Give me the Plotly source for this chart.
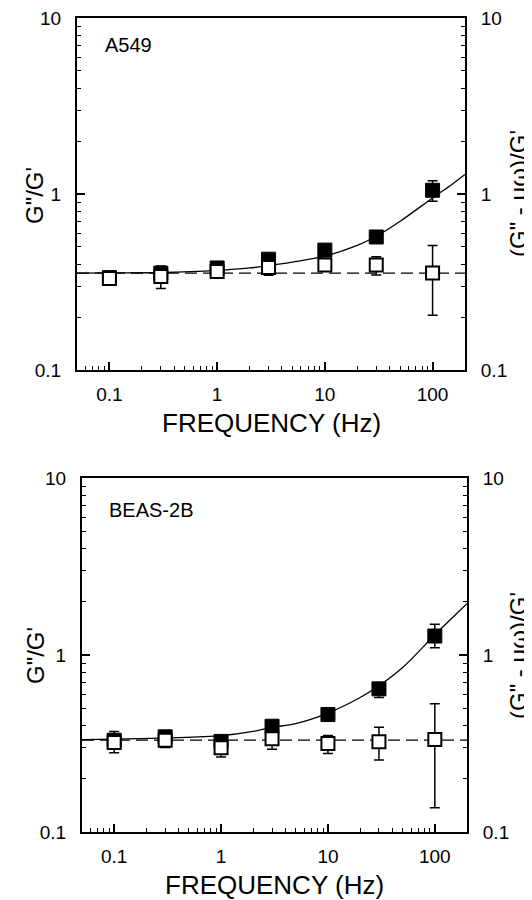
import plotly.graph_objects as go

# measured frequencies (Hz)
freq = [0.1, 0.3, 1, 3, 10, 30, 100]

# A549 panel: filled = G''/G', open = (G'' - mu*w)/G'
a549_filled = [0.335, 0.355, 0.38, 0.426, 0.48, 0.57, 1.05]
a549_filled_lo = [0.32, 0.335, 0.355, 0.40, 0.45, 0.55, 0.91]
a549_filled_hi = [0.35, 0.375, 0.40, 0.45, 0.51, 0.59, 1.19]
a549_open = [0.331, 0.34, 0.363, 0.382, 0.395, 0.395, 0.356]
a549_open_lo = [0.315, 0.29, 0.345, 0.345, 0.365, 0.347, 0.205]
a549_open_hi = [0.35, 0.39, 0.38, 0.415, 0.425, 0.44, 0.51]

# BEAS-2B panel
beas_filled = [0.33, 0.345, 0.325, 0.396, 0.461, 0.644, 1.28]
beas_filled_lo = [0.31, 0.325, 0.30, 0.375, 0.44, 0.575, 1.10]
beas_filled_hi = [0.35, 0.365, 0.345, 0.42, 0.485, 0.69, 1.49]
beas_open = [0.32, 0.33, 0.299, 0.336, 0.316, 0.323, 0.333]
beas_open_lo = [0.28, 0.30, 0.265, 0.293, 0.278, 0.255, 0.137]
beas_open_hi = [0.37, 0.365, 0.33, 0.375, 0.351, 0.391, 0.53]

# fitted curves
curve_x = [0.05, 0.1, 0.3, 1, 2, 3, 5, 10, 20, 30, 50, 100, 150, 200]
a549_curve = [0.355, 0.356, 0.358, 0.368, 0.38, 0.392, 0.41, 0.443, 0.51, 0.575, 0.70, 0.95, 1.13, 1.29]
beas_curve = [0.333, 0.335, 0.34, 0.35, 0.37, 0.39, 0.41, 0.47, 0.575, 0.67, 0.85, 1.30, 1.65, 1.95]

# dashed plateau lines
dash_x = [0.05, 200]
a549_dash = [0.355, 0.355]
beas_dash = [0.33, 0.33]

x_ticks = [0.1, 1, 10, 100]
x_ticktext = ["0.1", "1", "10", "100"]
y_ticks = [0.1, 1, 10]
y_ticktext = ["0.1", "1", "10"]

FONT = "Arial, Liberation Sans, sans-serif"
OFF = 8  # default page margin around the plot div
W, H = 532 - OFF, 900 - OFF


def err(y, lo, hi):
    return dict(type="data", symmetric=False,
                array=[h - v for v, h in zip(y, hi)],
                arrayminus=[v - l for v, l in zip(y, lo)],
                color="black", thickness=1.5, width=5)


fig = go.Figure()

panels = [
    ("x", "y", "y3", a549_curve, a549_dash, a549_filled, a549_filled_lo, a549_filled_hi,
     a549_open, a549_open_lo, a549_open_hi),
    ("x2", "y2", "y4", beas_curve, beas_dash, beas_filled, beas_filled_lo, beas_filled_hi,
     beas_open, beas_open_lo, beas_open_hi),
]

for xa, ya, yr, curve, dash, fy, flo, fhi, oy, olo, ohi in panels:
    fig.add_trace(go.Scatter(x=dash_x, y=dash, xaxis=xa, yaxis=ya, mode="lines",
                             line=dict(color="black", width=1.2, dash="12px,6px"),
                             showlegend=False, hoverinfo="skip"))
    fig.add_trace(go.Scatter(x=curve_x, y=curve, xaxis=xa, yaxis=ya, mode="lines",
                             line=dict(color="black", width=1.3, shape="spline"),
                             showlegend=False, hoverinfo="skip"))
    fig.add_trace(go.Scatter(x=freq, y=fy, xaxis=xa, yaxis=ya, mode="markers",
                             marker=dict(symbol="square", size=14, color="black",
                                         line=dict(color="black", width=1)),
                             error_y=err(fy, flo, fhi), showlegend=False))
    fig.add_trace(go.Scatter(x=freq, y=oy, xaxis=xa, yaxis=yr, mode="markers",
                             marker=dict(symbol="square", size=13, color="white",
                                         line=dict(color="black", width=2)),
                             error_y=err(oy, olo, ohi), showlegend=False))

xcommon = dict(type="log", range=[-1.30103, 2.30103], tickvals=x_ticks, ticktext=x_ticktext,
               ticks="inside", ticklen=8, tickwidth=1.5, tickcolor="black",
               minor=dict(dtick="D1", ticks="inside", ticklen=4, tickwidth=1.2, tickcolor="black"),
               showline=True, linecolor="black", linewidth=2, mirror=True,
               showgrid=False, zeroline=False, ticklabelstandoff=6, automargin=False,
               ticklabeloverflow="allow",
               tickfont=dict(family=FONT, size=19, color="black"))
ycommon = dict(type="log", range=[-1, 1], tickvals=y_ticks, ticktext=y_ticktext,
               ticks="inside", ticklen=8, tickwidth=1.5, tickcolor="black",
               minor=dict(dtick="D1", ticks="inside", ticklen=4, tickwidth=1.2, tickcolor="black"),
               showline=True, linecolor="black", linewidth=2,
               showgrid=False, zeroline=False, ticklabelstandoff=10, automargin=False,
               ticklabeloverflow="allow",
               tickfont=dict(family=FONT, size=19, color="black"))


def dom_x(a, b):
    return [(a - OFF) / W, (b - OFF) / W]


def dom_y(top, bottom):
    return [1 - (bottom - OFF) / H, 1 - (top - OFF) / H]


fig.update_layout(
    width=W, height=H,
    margin=dict(l=0, r=0, t=0, b=0, autoexpand=False),
    paper_bgcolor="white", plot_bgcolor="white",
    xaxis=dict(xcommon, domain=dom_x(77, 465), anchor="y"),
    yaxis=dict(ycommon, domain=dom_y(18, 370), anchor="x"),
    yaxis3=dict(ycommon, overlaying="y", side="right", anchor="x"),
    xaxis2=dict(xcommon, domain=dom_x(82, 467), anchor="y2"),
    yaxis2=dict(ycommon, domain=dom_y(478, 832), anchor="x2"),
    yaxis4=dict(ycommon, overlaying="y2", side="right", anchor="x2"),
)


def px(x, y):
    return (x - OFF) / W, 1 - (y - OFF) / H


annots = [
    ("A549", 103, 45, 0, "left", 20),
    ("BEAS-2B", 107, 510, 0, "left", 20),
    ("FREQUENCY (Hz)", 271, 423, 0, "center", 26),
    ("FREQUENCY (Hz)", 274, 885, 0, "center", 26),
    ("G\"/G'", 35, 196, -90, "center", 24),
    ("G\"/G'", 35, 656, -90, "center", 24),
    ("(G\" - μω)/G'", 518, 194, -90, "center", 24),
    ("(G\" - μω)/G'", 518, 656, -90, "center", 24),
]
for text, ax, ay, ang, anchor, size in annots:
    xx, yy = px(ax, ay)
    fig.add_annotation(text=text, x=xx, y=yy, xref="paper", yref="paper",
                       xanchor=anchor, yanchor="middle", textangle=ang, showarrow=False,
                       font=dict(family=FONT, size=size, color="black"))

fig.write_html("out.html")
